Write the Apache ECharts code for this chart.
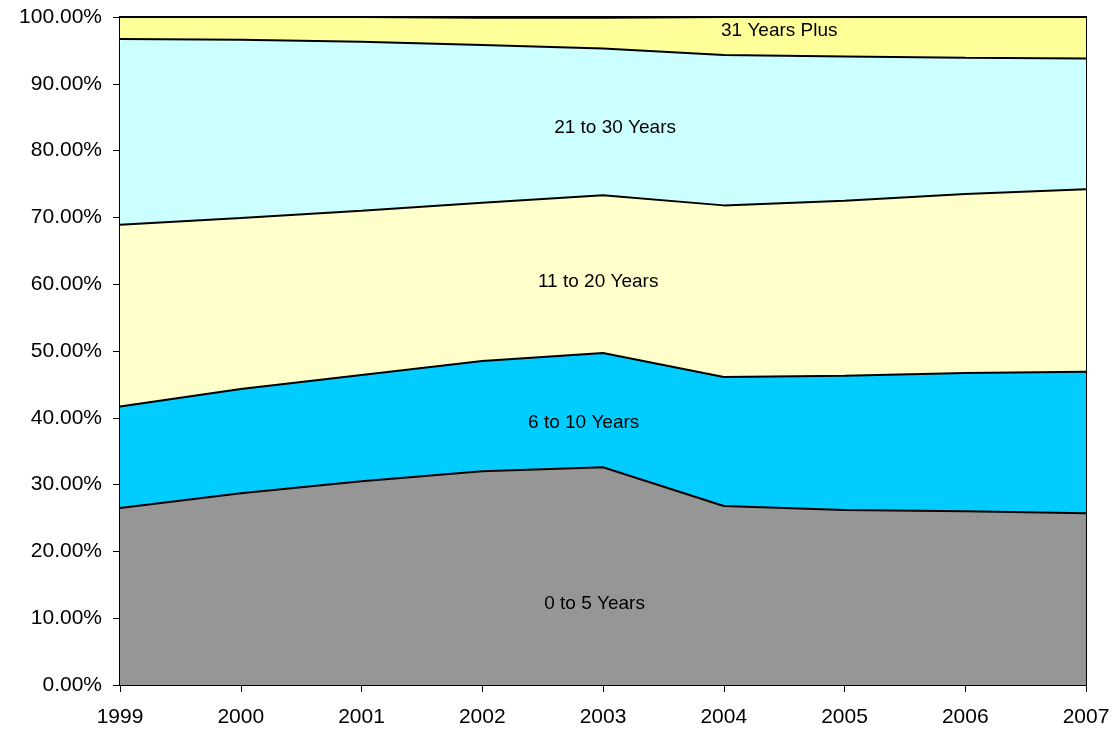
<!DOCTYPE html>
<html>
<head>
<meta charset="utf-8">
<script src="https://cdn.jsdelivr.net/npm/echarts@6/dist/echarts.min.js"></script>
<style>
  html, body { margin: 0; padding: 0; background: #fff; }
  #chart { width: 1116px; height: 732px; }
</style>
</head>
<body>
<div id="chart"></div>
<script>
// Years on the horizontal axis
const years = ['1999', '2000', '2001', '2002', '2003', '2004', '2005', '2006', '2007'];

// Share of members by length of service (percent of total), stacked bottom to top
const yrs0to5   = [26.5, 28.7, 30.5, 32.0, 32.6, 26.8, 26.2, 26.0, 25.7];
const yrs6to10  = [15.2, 15.6, 15.9, 16.5, 17.1, 19.3, 20.1, 20.7, 21.2];
const yrs11to20 = [27.2, 25.6, 24.6, 23.7, 23.6, 25.7, 26.2, 26.8, 27.3];
const yrs21to30 = [27.8, 26.7, 25.3, 23.6, 22.0, 22.5, 21.6, 20.4, 19.6];
const yrs31plus = [3.3, 3.4, 3.7, 4.1, 4.6, 5.7, 5.9, 6.1, 6.2];

const seriesNames  = ['0 to 5 Years', '6 to 10 Years', '11 to 20 Years', '21 to 30 Years', '31 Years Plus'];
const seriesValues = [yrs0to5, yrs6to10, yrs11to20, yrs21to30, yrs31plus];
const seriesColors = ['#969696', '#00CCFF', '#FFFFCC', '#CCFFFF', '#FFFF99'];

// In-band label anchors: [position along the year axis (index), percent]
const labelAnchors = [
  [3.93, 12.1],
  [3.84, 39.2],
  [3.96, 60.3],
  [4.10, 83.4],
  [5.46, 97.9]
];

const FONT = '"Liberation Sans", Arial, sans-serif';

const areaSeries = seriesNames.map((name, i) => ({
  name: name,
  type: 'line',
  stack: 'total',
  data: seriesValues[i],
  symbol: 'none',
  smooth: false,
  lineStyle: { color: '#000', width: 2 },
  areaStyle: { color: seriesColors[i], opacity: 1 },
  emphasis: { disabled: true },
  z: 2
}));

const labelSeries = {
  type: 'scatter',
  xAxisIndex: 1,
  symbolSize: 0,
  silent: true,
  z: 5,
  itemStyle: { opacity: 1 },
  label: {
    show: true,
    position: 'inside',
    formatter: '{b}',
    color: '#000000',
    opacity: 1,
    textBorderWidth: 0,
    fontFamily: FONT,
    fontSize: 19
  },
  data: seriesNames.map((n, i) => ({ name: n, value: labelAnchors[i] }))
};

const chart = echarts.init(document.getElementById('chart'), null, { renderer: 'canvas' });
chart.setOption({
  animation: false,
  backgroundColor: '#ffffff',
  grid: {
    left: 120, right: 30, top: 17, bottom: 47,
    show: true,
    borderColor: '#000',
    borderWidth: 2,
    backgroundColor: 'transparent'
  },
  xAxis: [
    {
      type: 'category',
      data: years,
      boundaryGap: false,
      axisLine: { show: true, lineStyle: { color: '#000', width: 2 } },
      axisTick: { show: true, length: 7, lineStyle: { color: '#000', width: 1 } },
      axisLabel: { color: '#000', fontFamily: FONT, fontSize: 21, margin: 22 },
      splitLine: { show: false }
    },
    {
      type: 'value',
      min: 0,
      max: 8,
      show: false
    }
  ],
  yAxis: {
    type: 'value',
    min: 0,
    max: 100,
    interval: 10,
    axisLine: { show: true, lineStyle: { color: '#000', width: 2 } },
    axisTick: { show: true, length: 7, lineStyle: { color: '#000', width: 1 } },
    axisLabel: {
      color: '#000', fontFamily: FONT, fontSize: 21, margin: 18,
      formatter: v => v.toFixed(2) + '%'
    },
    splitLine: { show: false }
  },
  series: areaSeries.concat([labelSeries])
});
</script>
</body>
</html>
